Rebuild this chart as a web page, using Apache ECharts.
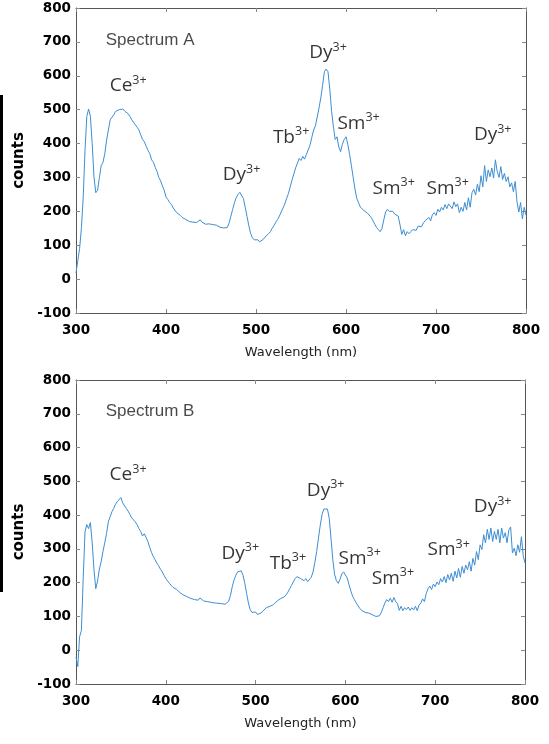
<!DOCTYPE html>
<html><head><meta charset="utf-8">
<script src="https://cdn.jsdelivr.net/npm/echarts@6/dist/echarts.min.js"></script>
<style>html,body{margin:0;padding:0;background:#fff}#c{width:549px;height:744px}</style>
</head><body><div id="c"></div>
<script>
// wavelength grid (nm): start and step of the sampled readings
const wlStart = 300;
const wlStep = 2;

// Spectrum A counts, 300..800 nm every 2 nm
const spectrumA = [
 18,55,90,150,240,380,480,502,480,400,300,255,262,300,335,345,370,410,440,470,478,485,495,490,500,
 498,502,496,500,488,480,470,466,455,448,440,425,412,405,392,380,370,352,345,330,318,300,290,275,262,
 242,235,226,220,210,205,196,194,188,182,180,176,172,170,166,168,165,167,170,175,168,166,162,160,163,
 158,161,156,159,155,153,156,151,148,152,165,185,205,225,240,250,256,252,238,212,185,158,135,122,116,
 112,116,110,115,117,124,128,134,140,150,158,168,176,186,198,210,222,238,252,272,292,310,328,342,356,
 350,362,354,368,372,395,418,440,452,478,505,535,572,612,620,612,560,495,450,412,420,390,376,398,412,
 420,398,368,335,300,265,238,225,212,210,202,200,194,190,182,172,162,152,146,140,150,175,198,206,200,
 197,200,192,194,186,160,132,146,128,140,134,140,146,150,144,156,160,155,166,172,176,182,172,190,196,
 188,206,198,212,204,220,208,222,226,208,228,214,222,196,212,200,226,204,240,212,255,265,248,280,258,
 305,272,335,288,322,302,328,298,352,318,300,332,294,312,288,302,272,284,258,288,228,198,226,178,212,188
];

// Spectrum B counts, 300..800 nm every 2 nm
const spectrumB = [
 -20,-48,40,58,210,350,372,360,378,320,240,182,205,240,262,292,318,345,380,395,410,420,432,440,438,
 452,436,440,420,412,402,392,388,380,372,360,352,338,345,334,322,305,290,278,268,258,250,240,232,222,
 212,205,198,192,186,182,180,175,170,166,163,160,158,155,153,156,150,152,148,155,150,146,148,144,146,
 142,145,140,143,139,141,138,140,136,139,145,162,188,208,222,232,237,235,222,198,168,140,120,112,110,
 113,106,104,110,116,120,126,122,130,128,135,140,146,150,153,155,158,164,172,182,192,202,212,218,222,
 212,216,206,212,203,208,216,232,260,292,332,370,402,418,422,418,390,330,268,224,206,198,210,226,232,
 228,214,194,176,160,150,140,132,124,118,116,112,114,110,108,105,102,100,97,102,112,126,140,150,144,
 154,142,156,144,138,118,130,117,126,120,128,118,126,119,130,117,134,140,152,144,168,182,190,180,196,
 188,202,194,212,202,218,200,224,208,228,204,234,214,242,216,248,228,252,238,262,234,272,252,292,268,
 312,298,342,318,358,328,362,322,352,328,358,318,362,332,348,318,356,365,288,302,280,312,290,336,280,258
];

// axis ranges / ticks
const xMin = 300, xMax = 800, xStep = 100;
const yMin = -100, yMax = 800, yStep = 100;

// peak annotations: [ion, wavelength, counts] (label centres in data units)
const ionsA = [['Ce',358,570],['Dy',580,667],['Tb',539,419],['Sm',614,460],['Dy',484,307],['Sm',653,268],['Sm',713,268],['Dy',763,425]];
const ionsB = [['Ce',358,519],['Dy',483,287],['Tb',536,257],['Dy',578,474],['Sm',616,272],['Sm',653,213],['Sm',715,297],['Dy',764,425]];
const titleA = ['Spectrum A', 333, 704];
const titleB = ['Spectrum B', 333, 706];

const lineColor = '#3d8ed3';
const axisColor = '#555';

function pts(arr){ return arr.map((v,i)=>[wlStart + i*wlStep, v]); }

const grids = [
  {left:76, top:8, width:450, height:305},
  {left:76, top:380, width:449, height:304}
];

const xAxes = [], yAxes = [];
grids.forEach((g,gi)=>{
  xAxes.push({type:'value', gridIndex:gi, min:xMin, max:xMax, interval:xStep, position:'bottom',
    axisLine:{show:true, onZero:false, lineStyle:{color:axisColor, width:1}},
    axisTick:{show:true, inside:true, length:4, lineStyle:{color:'#888'}},
    axisLabel:{color:'#000', fontFamily:'DejaVu Sans', fontWeight:'bold', fontSize:13.5, margin:10},
    splitLine:{show:false},
    name:'Wavelength (nm)', nameLocation:'middle', nameGap:33,
    nameTextStyle:{color:'#222', fontFamily:'DejaVu Sans', fontSize:13}});
  xAxes.push({type:'value', gridIndex:gi, min:xMin, max:xMax, interval:xStep, position:'top',
    axisLine:{show:true, onZero:false, lineStyle:{color:axisColor, width:1}},
    axisTick:{show:true, inside:true, length:4, lineStyle:{color:'#888'}},
    axisLabel:{show:false}, splitLine:{show:false}});
  yAxes.push({type:'value', gridIndex:gi, min:yMin, max:yMax, interval:yStep, position:'left',
    axisLine:{show:true, onZero:false, lineStyle:{color:axisColor, width:1}},
    axisTick:{show:true, inside:true, length:4, lineStyle:{color:'#888'}},
    axisLabel:{color:'#000', fontFamily:'DejaVu Sans', fontWeight:'bold', fontSize:13.5, margin:5},
    splitLine:{show:false},
    name:'counts', nameLocation:'middle', nameGap:38,
    nameTextStyle:{color:'#000', fontFamily:'DejaVu Sans', fontWeight:'bold', fontSize:15}});
  yAxes.push({type:'value', gridIndex:gi, min:yMin, max:yMax, interval:yStep, position:'right',
    axisLine:{show:true, onZero:false, lineStyle:{color:axisColor, width:1}},
    axisTick:{show:true, inside:true, length:4, lineStyle:{color:'#888'}},
    axisLabel:{show:false}, splitLine:{show:false}});
});

function ionSeries(ions, gi){
  return {type:'scatter', xAxisIndex:gi*2, yAxisIndex:gi*2, symbolSize:1, silent:true,
    itemStyle:{color:'rgba(0,0,0,0)'},
    data: ions.map(l=>({name:l[0], value:[l[1], l[2]]})),
    label:{show:true, position:'inside',
      formatter: p => '{m|' + p.name + '}{s|3+}',
      rich:{
        m:{fontFamily:'Open Sans', fontSize:19, color:'#000', lineHeight:24},
        s:{fontFamily:'Open Sans', fontSize:12.5, color:'#000', lineHeight:14, verticalAlign:'top'}
      }},
    emphasis:{disabled:true}, z:5};
}
function titleSeries(t, gi){
  return {type:'scatter', xAxisIndex:gi*2, yAxisIndex:gi*2, symbolSize:1, silent:true,
    itemStyle:{color:'rgba(0,0,0,0)'},
    data:[{name:t[0], value:[t[1], t[2]]}],
    label:{show:true, position:'inside', align:'left', formatter: p => p.name,
      fontFamily:'Liberation Sans', fontSize:17, color:'#1a1a1a'},
    emphasis:{disabled:true}, z:5};
}

const chart = echarts.init(document.getElementById('c'), null, {renderer:'canvas'});
chart.setOption({
  animation:false,
  backgroundColor:'#fff',
  grid: grids,
  xAxis: xAxes,
  yAxis: yAxes,
  graphic:[{type:'rect', left:0, top:95, shape:{width:3, height:497}, style:{fill:'#000'}}],
  series:[
    {type:'line', xAxisIndex:0, yAxisIndex:0, data:pts(spectrumA), showSymbol:false, symbol:'none',
      lineStyle:{color:lineColor, width:1}, silent:true},
    {type:'line', xAxisIndex:2, yAxisIndex:2, data:pts(spectrumB), showSymbol:false, symbol:'none',
      lineStyle:{color:lineColor, width:1}, silent:true},
    ionSeries(ionsA,0), ionSeries(ionsB,1),
    titleSeries(titleA,0), titleSeries(titleB,1)
  ]
});
</script>
</body></html>
